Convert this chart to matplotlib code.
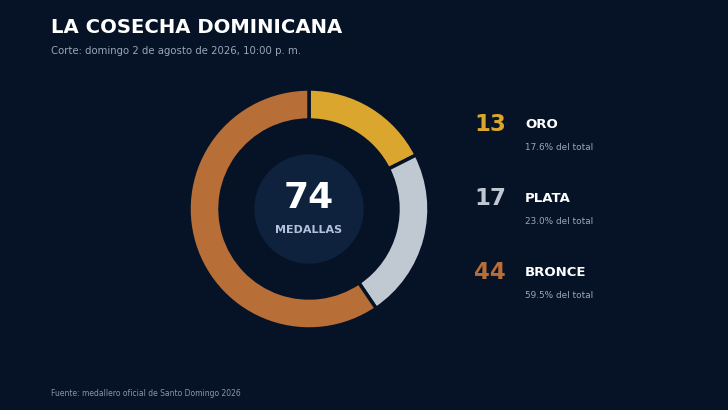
import matplotlib
matplotlib.use("Agg")
import matplotlib.pyplot as plt
from matplotlib.patches import Circle

# Datos
categorias = ["ORO", "PLATA", "BRONCE"]
medallas = [13, 17, 44]
colores = ["#DAA62E", "#C0C8D2", "#B86E37"]
total = sum(medallas)

bg = "#061327"

fig = plt.figure(figsize=(7.28, 4.1001), dpi=100, facecolor=bg)
ax = fig.add_axes([0, 0, 1, 1])
ax.set_facecolor(bg)

# dona (coordenadas en pixeles, y hacia arriba)
cx, cy = 309, 410 - 209
ax.pie(medallas, colors=colores, startangle=90, counterclock=False,
       center=(cx, cy), radius=120,
       wedgeprops=dict(width=31, edgecolor=bg, linewidth=2.5))
ax.add_patch(Circle((cx, cy), 54, color="#0E223D", zorder=3))
ax.set_xlim(0, 728)
ax.set_ylim(0, 410)
ax.set_aspect("equal")
ax.axis("off")

ax.text(cx, cy + 11, str(total), ha="center", va="center", fontsize=26,
        fontweight="bold", color="white", zorder=4)
ax.text(cx, cy - 21, "MEDALLAS", ha="center", va="center", fontsize=8,
        fontweight="bold", color="#B3C2D9", zorder=4)

# titulo
ax.text(51, 410 - 27, "LA COSECHA DOMINICANA", ha="left", va="center",
        fontsize=14.1, fontweight="bold", color="white")
ax.text(51, 410 - 51, "Corte: domingo 2 de agosto de 2026, 10:00 p. m.",
        ha="left", va="center", fontsize=7.3, color="#9AA6B8")

# leyenda
for i, (cat, n, c) in enumerate(zip(categorias, medallas, colores)):
    y = 410 - (124 + 74 * i)
    ax.text(474, y, str(n), ha="left", va="center", fontsize=16.5,
            fontweight="bold", color=c)
    ax.text(525, y, cat, ha="left", va="center", fontsize=9.5,
            fontweight="bold", color="white")
    ax.text(525, y - 23, f"{n / total * 100:.1f}% del total", ha="left",
            va="center", fontsize=6.4, color="#9AA6B8")

ax.text(51, 410 - 393, "Fuente: medallero oficial de Santo Domingo 2026",
        ha="left", va="center", fontsize=5.5, color="#8A96A8")

fig.savefig("out.png", dpi=100, facecolor=bg)
